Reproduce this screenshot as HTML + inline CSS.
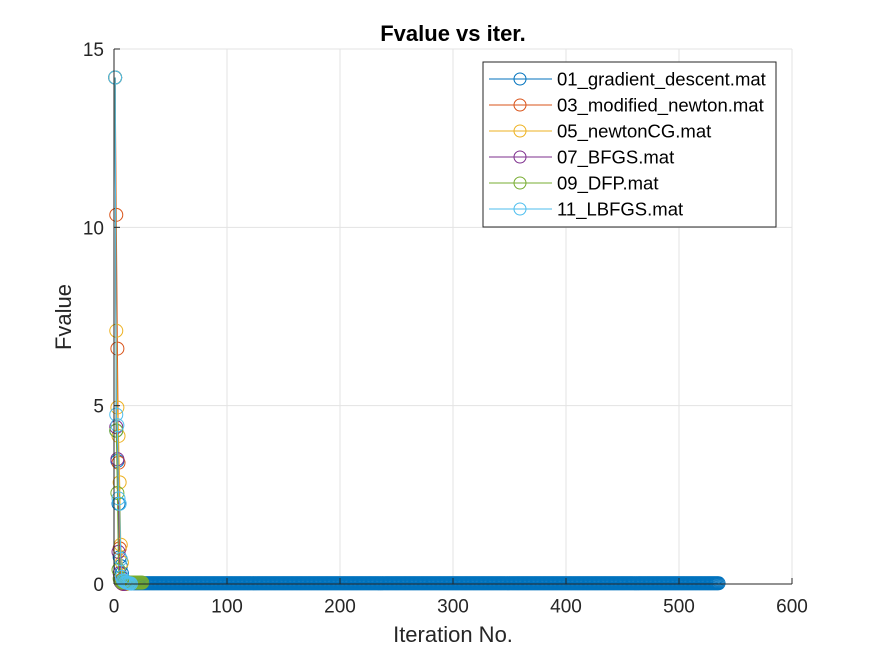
<!DOCTYPE html>
<html><head><meta charset="utf-8"><style>
body{margin:0;background:#fff;font-family:"Liberation Sans",Arial,sans-serif}
svg{display:block}
</style></head><body>
<svg id="chart" width="875" height="656" xmlns="http://www.w3.org/2000/svg">
<rect width="875" height="656" fill="#fff"/>
<g id="grid"></g>
<g id="series"></g>
<g id="axes"></g>
<text x="453" y="41" text-anchor="middle" font-size="22" font-weight="bold" fill="#000">Fvalue vs iter.</text>
<text x="453" y="642" text-anchor="middle" font-size="22" fill="#262626">Iteration No.</text>
<text transform="translate(71,317) rotate(-90)" text-anchor="middle" font-size="22" fill="#262626">Fvalue</text>
<g id="legend"></g>
</svg>
<script>
const xTicks=[0,100,200,300,400,500,600];
const yTicks=[0,5,10,15];
const seriesNames=["01_gradient_descent.mat","03_modified_newton.mat","05_newtonCG.mat","07_BFGS.mat","09_DFP.mat","11_LBFGS.mat"];
const seriesColors=["#0072BD","#D95319","#EDB120","#7E2F8E","#77AC30","#4DBEEE"];
const gdHead=[14.2,4.3,3.45,2.25,0.75,0.5,0.3,0.15,0.08,0.05];
const gdTailLength=525;
const gdTailValue=0.02;
const mnValues=[14.2,10.35,6.6,3.4,1.0,0.1,0.02,0.0];
const ncgValues=[14.2,7.1,4.95,4.15,2.85,1.1,0.6,0.1,0.05,0.02,0.0];
const bfgsValues=[14.2,4.4,3.5,0.9,0.3,0.05,0.02,0.01,0.0];
const dfpHead=[14.2,4.3,2.55,0.4,0.15,0.08];
const dfpTailLength=19;
const dfpTailValue=0.04;
const lbfgsValues=[14.2,4.75,4.45,2.4,2.25,0.7,0.2,0.1,0.08,0.05,0.04,0.03,0.02,0.02,0.01];

const gdValues=gdHead.concat(Array(gdTailLength).fill(gdTailValue));
const dfpValues=dfpHead.concat(Array(dfpTailLength).fill(dfpTailValue));
const allSeries=[gdValues,mnValues,ncgValues,bfgsValues,dfpValues,lbfgsValues];

const L=114,R=792,T=49,B=584;
const xs=v=>L+(v-0)/(600-0)*(R-L);
const ys=v=>B-(v-0)/(15-0)*(B-T);
const NS="http://www.w3.org/2000/svg";
function mk(tag,attrs,parent){const e=document.createElementNS(NS,tag);for(const k in attrs)e.setAttribute(k,attrs[k]);parent.appendChild(e);return e;}
const grid=document.getElementById('grid'),axes=document.getElementById('axes');
xTicks.forEach(t=>{
  const g=mk('line',{x1:xs(t),x2:xs(t),y1:T,y2:B,stroke:'#e3e3e3','stroke-width':1},grid);
  
  
  const tk=mk('line',{x1:xs(t),x2:xs(t),y1:B,y2:B-6,stroke:'#262626'},axes);
  
  
  const tx=mk('text',{x:xs(t),y:B+28.5,'text-anchor':'middle','font-size':19,fill:'#262626'},axes);
  tx.textContent=t;
  
  
});
yTicks.forEach(t=>{
  const g=mk('line',{x1:L,x2:R,y1:ys(t),y2:ys(t),stroke:'#e3e3e3','stroke-width':1},grid);
  
  
  const tk=mk('line',{x1:L,x2:L+6,y1:ys(t),y2:ys(t),stroke:'#262626'},axes);
  
  
  const tx=mk('text',{x:L-10,y:ys(t)+7,'text-anchor':'end','font-size':19,fill:'#262626'},axes);
  tx.textContent=t;
  
  
});
const ax1=mk('line',{x1:L,x2:R,y1:B,y2:B,stroke:'#262626'},axes);


const ax2=mk('line',{x1:L,x2:L,y1:T,y2:B,stroke:'#262626'},axes);



const sg=document.getElementById('series');
allSeries.forEach((vals,si)=>{
  const g=mk('g',{},sg);
  
  
  const pts=vals.map((v,i)=>xs(i+1).toFixed(2)+','+ys(v).toFixed(2)).join(' ');
  const pl=mk('polyline',{points:pts,fill:'none',stroke:seriesColors[si],'stroke-width':1},g);
  
  
  vals.forEach((v,i)=>{
    const c=mk('circle',{cx:xs(i+1),cy:ys(v),r:6.5,fill:'none',stroke:seriesColors[si],'stroke-width':1},g);
    
    
  });
});

const lg=document.getElementById('legend');
const lb=mk('rect',{x:483,y:62,width:293,height:165,fill:'#fff',stroke:'#262626','stroke-width':1},lg);


seriesNames.forEach((n,i)=>{
  const y=79+i*26;
  const g=mk('g',{},lg);
  
  
  mk('line',{x1:489,x2:552,y1:y,y2:y,stroke:seriesColors[i]},g);
  mk('circle',{cx:520,cy:y,r:6,fill:'none',stroke:seriesColors[i]},g);
  const t=mk('text',{x:557,y:y+6.5,'font-size':18.5,fill:'#000'},g);
  t.textContent=n;
});
</script>
</body></html>
